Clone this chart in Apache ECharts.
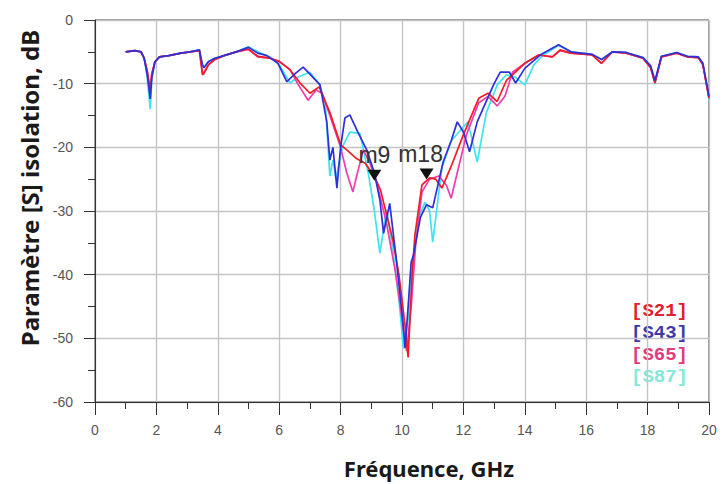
<!DOCTYPE html>
<html>
<head>
<meta charset="utf-8">
<script src="https://cdn.jsdelivr.net/npm/echarts@6/dist/echarts.min.js"></script>
<style>
  html, body { margin: 0; padding: 0; background: #fff; }
  #chart { width: 722px; height: 484px; }
</style>
</head>
<body>
<div id="chart"></div>
<script>
// shared low-frequency part (1 - 5 GHz)
var lowFreq = [1.0, 1.3, 1.5, 1.6, 1.7, 1.8, 1.85, 1.95, 2.1, 2.4, 2.8, 3.1, 3.4, 3.5, 3.55, 3.7, 3.9, 4.2, 4.6];

// S21
var s21Freq = lowFreq.concat([5.0, 5.3, 5.7, 6.0, 6.35, 6.7, 7.0, 7.3, 7.65, 8.0, 8.2, 8.5, 8.8, 9.1, 9.3, 9.7, 9.9, 10.1, 10.2, 10.33, 10.42, 10.65, 10.9, 11.1, 11.3, 11.6, 12.0, 12.5, 12.8, 13.1, 13.4, 14.0, 14.45, 14.9, 15.15, 15.5, 16.2, 16.5, 16.85, 17.3, 17.85, 18.1, 18.24, 18.45, 18.95, 19.3, 19.65, 19.8, 20.0]);
var s21Db = [-5.0, -4.8, -5.0, -6.0, -8.0, -11.0, -8.5, -6.6, -5.8, -5.6, -5.2, -5.0, -4.8, -8.6, -8.4, -7.0, -6.2, -5.6, -5.0,
  -4.6, -5.7, -6.0, -6.5, -7.8, -10.0, -11.5, -10.5, -14.5, -19.6, -20.4, -21.7, -22.5, -24.5, -26.7, -34.5, -40.0, -48.0, -53.0, -40.0, -33.8, -25.9, -24.8, -25.0, -26.4, -23.0, -18.0, -12.3, -11.5, -12.8, -9.5, -6.8, -5.5, -5.8, -4.7, -5.2, -5.5, -6.8, -5.0, -5.2, -6.0, -7.5, -9.9, -5.8, -5.2, -5.8, -5.9, -7.0, -12.3];

// S43
var s43Freq = lowFreq.concat([5.0, 5.3, 5.6, 5.96, 6.25, 6.5, 6.78, 7.0, 7.33, 7.55, 7.65, 7.75, 7.88, 8.0, 8.14, 8.3, 8.55, 8.85, 9.1, 9.28, 9.4, 9.6, 9.8, 10.0, 10.1, 10.2, 10.3, 10.37, 10.6, 10.8, 11.0, 11.34, 11.6, 11.8, 12.0, 12.2, 12.45, 12.65, 13.0, 13.2, 13.5, 13.7, 14.0, 14.5, 15.1, 15.5, 16.2, 16.5, 16.85, 17.3, 17.85, 18.1, 18.24, 18.45, 18.95, 19.3, 19.65, 19.8, 20.0]);
var s43Db = [-5.0, -4.8, -5.0, -6.0, -8.5, -12.4, -9.0, -6.6, -5.8, -5.6, -5.2, -5.0, -4.7, -7.0, -7.5, -6.5, -6.0, -5.6, -5.0,
  -4.3, -5.2, -5.6, -6.8, -9.7, -8.5, -7.4, -8.5, -10.2, -16.0, -22.0, -20.0, -26.4, -20.0, -15.4, -14.9, -17.5, -20.4, -24.0, -28.3, -33.5, -28.8, -37.0, -46.0, -51.5, -45.0, -38.0, -37.0, -31.0, -29.0, -29.5, -22.3, -19.0, -16.0, -17.6, -20.7, -16.0, -13.8, -10.0, -8.2, -8.2, -9.9, -7.6, -5.5, -3.9, -5.0, -5.4, -6.2, -5.0, -5.1, -5.9, -7.2, -9.5, -5.7, -5.1, -5.7, -5.8, -6.8, -12.0];

// S65
var s65Freq = lowFreq.concat([5.0, 5.3, 5.7, 6.0, 6.35, 6.6, 6.94, 7.2, 7.4, 7.65, 8.0, 8.2, 8.4, 8.55, 8.74, 8.96, 9.2, 9.5, 9.8, 10.0, 10.15, 10.3, 10.45, 10.65, 10.9, 11.2, 11.45, 11.6, 11.8, 12.1, 12.5, 12.8, 13.1, 13.35, 13.6, 14.0, 14.45, 14.9, 15.15, 15.5, 16.2, 16.5, 16.85, 17.3, 17.85, 18.1, 18.24, 18.45, 18.95, 19.3, 19.65, 19.8, 20.0]);
var s65Db = [-5.0, -4.8, -5.0, -6.0, -8.0, -11.5, -8.5, -6.6, -5.8, -5.6, -5.2, -5.0, -4.8, -8.3, -8.2, -7.0, -6.2, -5.6, -5.0,
  -4.6, -5.8, -6.0, -6.5, -7.8, -10.0, -12.6, -11.0, -11.5, -15.0, -20.0, -24.0, -27.0, -24.0, -20.4, -22.5, -26.0, -32.0, -40.0, -47.0, -52.0, -45.0, -35.0, -27.0, -25.0, -24.5, -26.0, -28.0, -24.0, -18.0, -13.0, -12.0, -13.5, -12.0, -8.2, -6.8, -5.5, -5.8, -4.8, -5.2, -5.5, -6.8, -5.0, -5.2, -6.0, -7.5, -9.8, -5.8, -5.2, -5.8, -5.9, -7.0, -12.2];

// S87
var s87Freq = lowFreq.concat([5.0, 5.3, 5.7, 6.0, 6.35, 6.6, 7.0, 7.3, 7.5, 7.65, 7.75, 7.85, 8.05, 8.3, 8.63, 8.9, 9.1, 9.28, 9.5, 9.7, 9.9, 10.05, 10.2, 10.35, 10.55, 10.75, 10.9, 11.0, 11.3, 11.6, 11.85, 12.15, 12.45, 12.75, 13.1, 13.4, 13.7, 14.0, 14.3, 14.6, 15.1, 15.5, 16.2, 16.5, 16.85, 17.3, 17.85, 18.1, 18.24, 18.45, 18.95, 19.3, 19.65, 19.8, 20.0]);
var s87Db = [-5.0, -4.8, -5.0, -6.0, -9.0, -14.0, -9.5, -6.6, -5.8, -5.6, -5.2, -5.0, -4.7, -7.3, -7.4, -6.5, -6.0, -5.6, -5.0,
  -4.2, -5.0, -5.8, -7.0, -9.9, -9.0, -8.2, -10.0, -13.0, -24.5, -22.0, -25.0, -20.0, -17.6, -17.8, -24.0, -30.0, -36.6, -29.8, -36.0, -44.0, -51.6, -47.0, -38.0, -31.0, -28.6, -30.0, -34.9, -23.2, -19.0, -17.6, -16.0, -22.3, -14.5, -10.2, -8.6, -9.0, -10.2, -7.0, -5.5, -4.0, -5.0, -5.4, -6.2, -5.0, -5.1, -5.9, -7.4, -10.0, -5.7, -5.1, -5.7, -5.8, -6.8, -12.5];

var markerNames = ['m9', 'm18'];
var markerFreq = [9.1, 10.8];
var markerDb = [-24.4, -24.2];

var legendNames = ['[S21]', '[S43]', '[S65]', '[S87]'];
var xTicks = { min: 0, max: 20, interval: 2 };
var yTicks = { min: -60, max: 0, interval: 10 };

function pairs(xs, ys) {
  return xs.map(function(x, i) { return [x, ys[i]]; });
}

var lineColors = { s21: '#f21c24', s43: '#3030d8', s65: '#f03cae', s87: '#3ee4ee' };
var textColors = ['#e0202a', '#3a3aa8', '#e03c7a', '#86e8d6'];

var chart = echarts.init(document.getElementById('chart'), null, { renderer: 'svg' });

function lineSeries(name, data, color) {
  return {
    name: name, type: 'line', data: data, symbol: 'none',
    lineStyle: { color: color, width: 1.7 }, itemStyle: { color: color },
    animation: false
  };
}

var red = lineSeries('S21', pairs(s21Freq, s21Db), lineColors.s21);
red.markPoint = {
  symbol: 'triangle', symbolRotate: 180, symbolSize: [14, 11],
  itemStyle: { color: '#111' },
  label: {
    show: true, position: 'top', formatter: '{b}', color: '#333',
    fontFamily: 'Liberation Sans', fontSize: 23, distance: 3
  },
  data: markerNames.map(function(n, i) {
    return { name: n, coord: [markerFreq[i], markerDb[i]], label: { offset: [i === 0 ? 0 : -6, 0] } };
  })
};

chart.setOption({
  animation: false,
  grid: { left: 95, right: 13, top: 20, bottom: 82, show: true, borderColor: '#333', borderWidth: 1 },
  xAxis: {
    type: 'value', min: xTicks.min, max: xTicks.max, interval: xTicks.interval,
    name: 'Fréquence, GHz', nameLocation: 'middle', nameGap: 55,
    nameTextStyle: { color: '#1a1a1a', fontFamily: 'Noto Sans', fontWeight: 'bold', fontSize: 22, padding: [0, 0, 0, 54] },
    axisLine: { onZero: false, lineStyle: { color: '#333', width: 1 } },
    axisTick: { show: true, inside: false, length: 13, lineStyle: { color: '#333' } },
    minorTick: { show: true, splitNumber: 2, length: 7, lineStyle: { color: '#333' } },
    axisLabel: { color: '#555', fontFamily: 'Liberation Sans', fontSize: 14, margin: 21 },
    splitLine: { show: true, lineStyle: { color: '#c4c4c4', width: 1.4 } }
  },
  yAxis: {
    type: 'value', min: yTicks.min, max: yTicks.max, interval: yTicks.interval,
    name: 'Paramètre [S] isolation, dB', nameLocation: 'middle', nameGap: 48,
    nameTextStyle: { color: '#1a1a1a', fontFamily: 'Noto Sans', fontWeight: 'bold', fontSize: 24, padding: [0, 0, 0, 46] },
    axisLine: { show: true, onZero: false, lineStyle: { color: '#333', width: 1 } },
    axisTick: { show: true, inside: false, length: 11, lineStyle: { color: '#333' } },
    minorTick: { show: true, splitNumber: 2, length: 7, lineStyle: { color: '#333' } },
    axisLabel: { color: '#555', fontFamily: 'Liberation Sans', fontSize: 14, margin: 22 },
    splitLine: { show: true, lineStyle: { color: '#c4c4c4', width: 1.4 } }
  },
  graphic: legendNames.map(function(n, i) {
    return {
      type: 'text', left: 631, top: 301 + i * 22,
      style: { text: n, fill: textColors[i], font: 'bold 19px "Liberation Mono"' }
    };
  }),
  series: [
    lineSeries('S87', pairs(s87Freq, s87Db), lineColors.s87),
    lineSeries('S65', pairs(s65Freq, s65Db), lineColors.s65),
    red,
    lineSeries('S43', pairs(s43Freq, s43Db), lineColors.s43)
  ]
});
</script>
</body>
</html>
